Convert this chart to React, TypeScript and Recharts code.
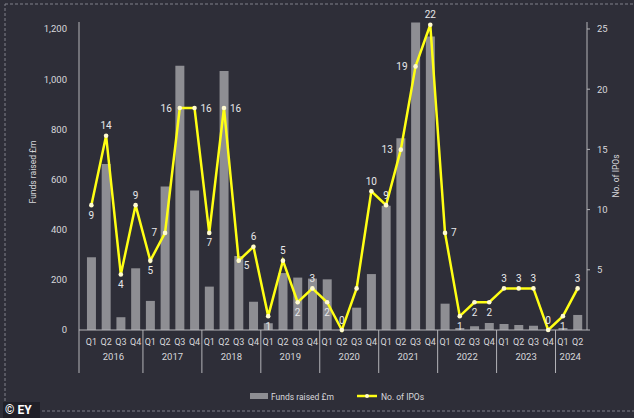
import React from 'react';
import { ComposedChart, Bar, Line, XAxis, YAxis } from 'recharts';

const years = ['2016', '2017', '2018', '2019', '2020', '2021', '2022', '2023', '2024'];
const quarters = ['Q1', 'Q2', 'Q3', 'Q4'];

// funds raised (£m), Q1 2016 .. Q2 2024
const fundsRaised = [
  290, 662, 51, 246,
  116, 572, 1054, 556,
  173, 1033, 295, 113,
  27, 227, 209, 205,
  202, 0, 89, 223,
  495, 765, 1226, 1170,
  105, 8, 15, 28,
  24, 20, 17, 0,
  8, 60,
];

// number of IPOs, same quarters
const ipoCount = [
  9, 14, 4, 9,
  5, 7, 16, 16,
  7, 16, 5, 6,
  1, 5, 2, 3,
  2, 0, 3, 10,
  9, 13, 19, 22,
  7, 1, 2, 2,
  3, 3, 3, 0,
  1, 3,
];

const fundsTicks = [0, 200, 400, 600, 800, 1000, 1200];
const ipoTicks = [0, 5, 10, 15, 20, 25];

// where each data label sits relative to its point
const labelSide = [
  'bottom', 'top', 'bottom', 'top',
  'bottom', 'left', 'left', 'right',
  'bottom', 'right', 'br', 'top',
  'bottom', 'top', 'bottom', 'top',
  'bottom', 'top', 'none', 'top',
  'top', 'left', 'left', 'top',
  'right', 'bottom', 'bottom', 'bottom',
  'top', 'top', 'top', 'top',
  'bottom', 'top',
];

const rows = fundsRaised.map((funds, i) => ({
  period: `${quarters[i % 4]} ${years[Math.floor(i / 4)]}`,
  quarter: quarters[i % 4],
  year: years[Math.floor(i / 4)],
  funds,
  ipos: ipoCount[i],
}));

const FONT = 'Roboto, "Noto Sans", sans-serif';
const BG = '#2e2e38';
const YELLOW = '#ffff14';
const BAR = '#8e8e93';
const AXIS = '#b4b4b8';
const TEXT = '#d8d8dc';

const W = 634;
const H = 418;
const xPad = { left: 5, right: 2 };

const PeriodTick = (props: any) => {
  const { x, y, payload } = props;
  const index = props.index ?? payload.index;
  const row = rows[index];
  if (!row) return null;
  const fallback = (W - 79 - 47 - xPad.left - xPad.right) / rows.length / 2;
  const half = payload.offset > 0 ? payload.offset : fallback;
  const inYear = rows.filter(r => r.year === row.year).length;
  const sepX = index === 0 ? x - half - xPad.left : x - half;
  return (
    <g>
      <text x={x} y={y + 15} textAnchor="middle" fill={TEXT} fontSize={9} fontFamily={FONT}>
        {row.quarter}
      </text>
      {row.quarter === 'Q1' && (
        <>
          <line x1={sepX} x2={sepX} y1={y} y2={y + 43} stroke={AXIS} strokeWidth={1} />
          <text
            x={x + (inYear - 1) * half}
            y={y + 30}
            textAnchor="middle"
            fill={TEXT}
            fontSize={9.5}
            fontFamily={FONT}
          >
            {row.year}
          </text>
        </>
      )}
    </g>
  );
};

const IpoDot = (props: any) => {
  const { cx, cy, index, value } = props;
  if (cx == null || cy == null) return <g key={index} />;
  const side = labelSide[index];
  const v = Array.isArray(value) ? value[1] : value;
  let tx = cx;
  let ty = cy;
  let anchor: 'middle' | 'start' | 'end' = 'middle';
  if (side === 'top') ty = cy - 6.5;
  else if (side === 'bottom') ty = cy + 13.5;
  else if (side === 'left') { tx = cx - 8; ty = cy + 3.5; anchor = 'end'; }
  else if (side === 'right') { tx = cx + 6; ty = cy + 3.5; anchor = 'start'; }
  else if (side === 'br') { tx = cx + 5; ty = cy + 8; anchor = 'start'; }
  return (
    <g key={index}>
      <circle cx={cx} cy={cy} r={2.3} fill="#fffbd0" />
      {side !== 'none' && (
        <text x={tx} y={ty} textAnchor={anchor} fill="#e8e8ea" fontSize={10} fontFamily={FONT}>
          {v}
        </text>
      )}
    </g>
  );
};

const AxisTitle = (props: any) => {
  const { viewBox, text, dx = 0, dy = 0 } = props;
  if (!viewBox) return null;
  const cx = viewBox.x + viewBox.width / 2 + dx;
  const cy = viewBox.y + viewBox.height / 2 + dy;
  return (
    <text
      x={cx}
      y={cy}
      transform={`rotate(-90 ${cx} ${cy})`}
      textAnchor="middle"
      dominantBaseline="central"
      fill={TEXT}
      fontSize={8.5}
      fontFamily={FONT}
    >
      {text}
    </text>
  );
};

export default function App() {
  return (
    <div style={{ position: 'absolute', left: 0, top: 0, width: W, height: H, background: BG, overflow: 'hidden' }}>
      <ComposedChart
        width={W}
        height={H}
        data={rows}
        margin={{ top: 22, right: 0, bottom: 38, left: 0 }}
        barCategoryGap="20%"
      >
        <XAxis
          dataKey="period"
          interval={0}
          height={50}
          padding={xPad}
          tickLine={false}
          tickSize={0}
          tickMargin={0}
          axisLine={{ stroke: AXIS }}
          tick={<PeriodTick />}
        />
        <YAxis
          yAxisId="funds"
          width={79}
          domain={[0, 1228]}
          ticks={fundsTicks}
          allowDataOverflow
          tickLine={false}
          tickSize={0}
          tickMargin={12}
          axisLine={{ stroke: AXIS }}
          tick={{ fill: TEXT, fontSize: 9.5, fontFamily: FONT }}
          tickFormatter={(v: number) => v.toLocaleString('en-GB')}
          label={<AxisTitle text="Funds raised £m" dx={-6.5} dy={-4} />}
        />
        <YAxis
          yAxisId="ipo"
          orientation="right"
          width={47}
          domain={[0, 25.58]}
          ticks={ipoTicks}
          allowDataOverflow
          tickSize={3}
          tickMargin={7}
          tickLine={{ stroke: AXIS }}
          axisLine={{ stroke: AXIS }}
          tick={{ fill: TEXT, fontSize: 9.5, fontFamily: FONT }}
          tickFormatter={(v: number) => (v === 0 ? '' : String(v))}
          label={<AxisTitle text="No. of IPOs" dx={5.5} dy={0} />}
        />
        <YAxis yAxisId="ipoLine" orientation="right" hide domain={[0, 22.2]} />
        <Bar yAxisId="funds" dataKey="funds" name="Funds raised £m" fill={BAR} isAnimationActive={false} />
        <Line
          yAxisId="ipoLine"
          dataKey="ipos"
          name="No. of IPOs"
          type="linear"
          stroke={YELLOW}
          strokeWidth={2.5}
          dot={(p: any) => <IpoDot key={p.index} {...p} />}
          activeDot={false}
          isAnimationActive={false}
        />
      </ComposedChart>

      <svg width={W} height={H} style={{ position: 'absolute', left: 0, top: 0, pointerEvents: 'none' }}>
        <rect x={5} y={4} width={W + 10} height={407} fill="none" stroke="#80808a" strokeDasharray="3 2" />
        <rect x={250} y={393} width={18} height={6} fill={BAR} />
        <text x={271} y={399.5} fill={TEXT} fontSize={8.5} fontFamily={FONT}>Funds raised £m</text>
        <line x1={357} x2={377} y1={396} y2={396} stroke={YELLOW} strokeWidth={2.5} />
        <circle cx={367} cy={396} r={2} fill="#fffbd0" />
        <text x={381} y={399.5} fill={TEXT} fontSize={8.5} fontFamily={FONT}>No. of IPOs</text>
        <rect x={3} y={402} width={37} height={16} fill="#202028" />
        <text x={5} y={414} fill="#ffffff" fontSize={12} fontWeight="bold" fontFamily={FONT}>© EY</text>
      </svg>
    </div>
  );
}
